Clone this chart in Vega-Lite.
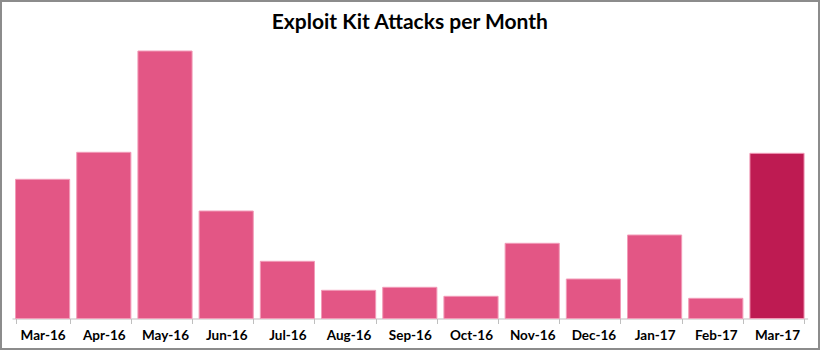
{
  "$schema": "https://vega.github.io/schema/vega-lite/v6.json",
  "autosize": {"type": "none"},
  "width": 818,
  "height": 348,
  "padding": {"left": 1, "top": 1, "right": 2, "bottom": 2},
  "background": "white",
  "layer": [
    {
      "data": {
        "values": [
          {"month": "Mar-16", "attacks": 139.2},
          {"month": "Apr-16", "attacks": 166.2},
          {"month": "May-16", "attacks": 267.5},
          {"month": "Jun-16", "attacks": 107.5},
          {"month": "Jul-16", "attacks": 57.2},
          {"month": "Aug-16", "attacks": 28.2},
          {"month": "Sep-16", "attacks": 31.2},
          {"month": "Oct-16", "attacks": 22.2},
          {"month": "Nov-16", "attacks": 75.2},
          {"month": "Dec-16", "attacks": 39.5},
          {"month": "Jan-17", "attacks": 83.5},
          {"month": "Feb-17", "attacks": 20.2},
          {"month": "Mar-17", "attacks": 165.2}
        ]
      },
      "mark": {"type": "bar", "stroke": "#f29bb8", "strokeWidth": 1},
      "encoding": {
        "x": {
          "field": "month",
          "type": "nominal",
          "sort": null,
          "scale": {"range": [11, 806.6], "paddingInner": 0.115, "paddingOuter": 0.0575},
          "axis": {
            "title": null,
            "orient": "bottom",
            "offset": -30.5,
            "labelAngle": 0,
            "labelFont": "Lato",
            "labelFontSize": 13.5,
            "labelFontWeight": "bold",
            "labelColor": "black",
            "labelPadding": 5,
            "tickBand": "extent",
            "tickSize": 5,
            "tickColor": "#bfbfbf",
            "domainColor": "#bfbfbf",
            "domainWidth": 1
          }
        },
        "y": {
          "field": "attacks",
          "type": "quantitative",
          "scale": {"domain": [0, 317.5], "range": [317.5, 0], "nice": false, "zero": true},
          "axis": null
        },
        "color": {
          "condition": {"test": "datum.month === 'Mar-17'", "value": "#be1b52"},
          "value": "#e35685"
        }
      }
    },
    {
      "data": {"values": [{"title": "Exploit Kit Attacks per Month", "month": "Sep-16", "level": 289.5}]},
      "mark": {
        "type": "text",
        "font": "Lato",
        "fontSize": 21,
        "fontWeight": "bold",
        "color": "black",
        "align": "center",
        "baseline": "alphabetic"
      },
      "encoding": {
        "x": {"field": "month", "type": "nominal", "sort": null},
        "y": {"field": "level", "type": "quantitative"},
        "text": {"field": "title"}
      }
    }
  ],
  "config": {
    "view": {"stroke": "#8c8c8c", "strokeWidth": 2}
  }
}
